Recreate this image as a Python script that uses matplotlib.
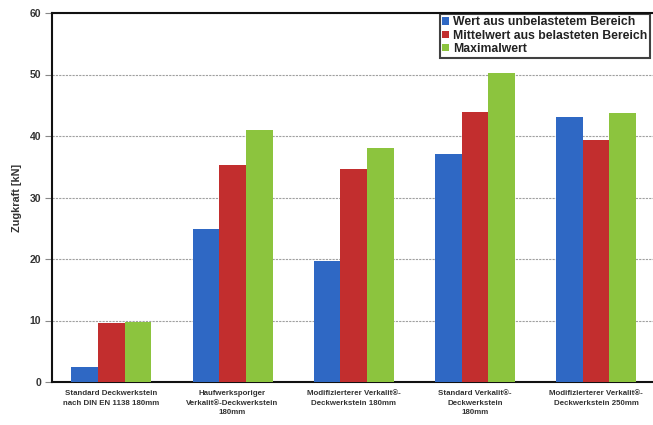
import matplotlib
matplotlib.use("Agg")
import matplotlib.pyplot as plt
import numpy as np

categories = ["Standard Deckwerkstein\nnach DIN EN 1138 180mm",
              "Haufwerksporiger\nVerkalit®-Deckwerkstein\n180mm",
              "Modifizierterer Verkalit®-\nDeckwerkstein 180mm",
              "Standard Verkalit®-\nDeckwerkstein\n180mm",
              "Modifizierterer Verkalit®-\nDeckwerkstein 250mm"]
series_names = ["Wert aus unbelastetem Bereich",
                "Mittelwert aus belasteten Bereich",
                "Maximalwert"]
unbelastet = [2.4, 24.9, 19.7, 37.1, 43.1]
mittelwert = [9.6, 35.3, 34.6, 43.9, 39.3]
maximal = [9.8, 41.0, 38.0, 50.2, 43.7]
yticks = [0, 10, 20, 30, 40, 50, 60]

colors = ["#2f68c4", "#c22e2e", "#8cc43e"]

plt.rcParams['font.family'] = ['Liberation Sans', 'DejaVu Sans']

fig = plt.figure(figsize=(6.53, 4.25), dpi=100)
ax = fig.add_axes([52/653, 43/425, 601/653, 369/425])

x = np.arange(len(categories))
w = 0.22
for i, (vals, c, name) in enumerate(zip([unbelastet, mittelwert, maximal], colors, series_names)):
    ax.bar(x + (i - 1) * w, vals, width=w, color=c, label=name, zorder=3)

ax.set_ylim(0, 60)
ax.set_xlim(-0.49, 4.47)
ax.set_yticks(yticks)
ax.set_yticklabels([str(t) for t in yticks], fontsize=7.5, fontweight='bold', color='#333333')
ax.set_xticks(x)
ax.set_xticklabels(categories, fontsize=5.7, fontweight='bold', color='#333333', linespacing=1.45)
ax.tick_params(axis='x', length=0, pad=6)
ax.tick_params(axis='y', length=5, width=0.8, color='#888888', pad=3)
ax.yaxis.grid(True, linestyle=(0, (2, 1)), color='#a0a0a0', linewidth=0.8, zorder=0)
ax.set_ylabel("Zugkraft [kN]", fontsize=7.8, fontweight='bold', color='#333333', labelpad=5)

for s in ['left', 'top', 'bottom']:
    ax.spines[s].set_linewidth(1.5)
    ax.spines[s].set_color('#111111')
ax.spines['right'].set_visible(False)

leg = ax.legend(loc='upper right', bbox_to_anchor=(0.995, 0.998), fontsize=8.8,
                frameon=True, fancybox=False, edgecolor='#111111',
                handlelength=0.55, handleheight=0.55, handletextpad=0.35,
                borderpad=0.2, labelspacing=0.12, borderaxespad=0)
leg.get_frame().set_linewidth(1.5)
for t in leg.get_texts():
    t.set_fontweight('bold')
    t.set_color('#222222')

fig.savefig("out.png", dpi=100)
